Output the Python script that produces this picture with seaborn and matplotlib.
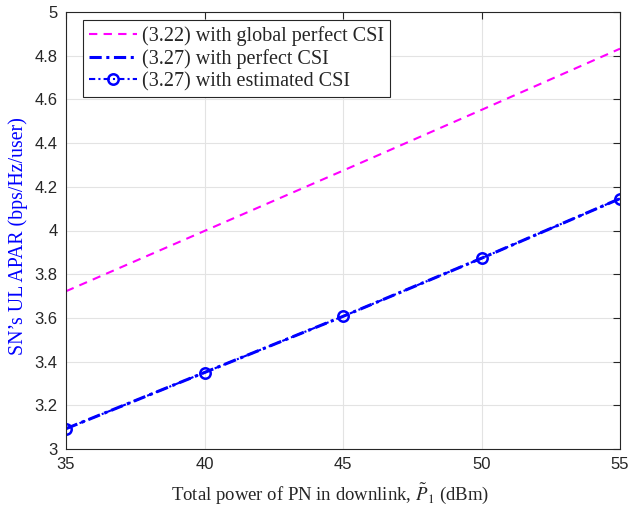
import matplotlib
matplotlib.use("Agg")
import matplotlib.pyplot as plt
import seaborn as sns
import pandas as pd

power_dbm = [35, 40, 45, 50, 55]
global_perfect = [3.722, 3.998, 4.274, 4.552, 4.832]
perfect_csi = [3.093, 3.350, 3.607, 3.873, 4.146]
estimated_csi = [3.093, 3.350, 3.607, 3.873, 4.146]

labels = ["(3.22) with global perfect CSI", "(3.27) with perfect CSI", "(3.27) with estimated CSI"]

sns.set_theme(style="whitegrid")
plt.rcParams["font.family"] = ["Liberation Sans", "DejaVu Sans"]
plt.rcParams["mathtext.fontset"] = "stix"

fig = plt.figure(figsize=(6.32, 5.12), dpi=100)
ax = fig.add_axes([66/632, 1-449/512, (620-66)/632, (449-12)/512])

df = pd.DataFrame({"x": power_dbm, "g": global_perfect, "p": perfect_csi, "e": estimated_csi})

sns.lineplot(data=df, x="x", y="g", ax=ax, color="#ff00ff", linestyle=(0, (4, 3)), linewidth=1.5, label=labels[0])
sns.lineplot(data=df, x="x", y="p", ax=ax, color="#0000ff", linestyle=(0, (4, 1.5, 1, 1.5)), linewidth=2.2, label=labels[1])
sns.lineplot(data=df, x="x", y="e", ax=ax, color="#0000ff", linestyle=(0, (3, 1.5, 1, 1.5)), linewidth=1.5,
             marker="o", markersize=7.5, markerfacecolor="none", markeredgecolor="#0000ff", markeredgewidth=1.8,
             label=labels[2])

ax.set_xlim(35, 55)
ax.set_ylim(3, 5)
ax.set_xticks([35, 40, 45, 50, 55])
ax.set_yticks([3, 3.2, 3.4, 3.6, 3.8, 4, 4.2, 4.4, 4.6, 4.8, 5])
ax.set_yticklabels(["3", "3.2", "3.4", "3.6", "3.8", "4", "4.2", "4.4", "4.6", "4.8", "5"])

ax.grid(True, color="#e3e3e3", linewidth=0.8)
for s in ax.spines.values():
    s.set_visible(True)
    s.set_color("#262626")
    s.set_linewidth(0.8)
ax.tick_params(axis="both", direction="in", length=5, width=0.8, color="#262626",
               labelsize=12, labelcolor="#262626", top=True, right=True, pad=6)
ax.set_facecolor("white")

ax.set_xlabel(r"Total power of PN in downlink, $\tilde{P}_1$ (dBm)", fontsize=13.5,
              family=["Liberation Serif", "DejaVu Serif"], color="#262626")
ax.xaxis.set_label_coords(0.4765, -0.074)
ax.set_ylabel("SN\u2019s UL APAR (bps/Hz/user)", fontsize=14.3,
              family=["Liberation Serif", "DejaVu Serif"], color="#0000ff")
ax.yaxis.set_label_coords(-0.068, 0.488)

leg = ax.legend(loc="upper left", bbox_to_anchor=(0.02, 0.995), fancybox=False, framealpha=1,
                edgecolor="#262626", handlelength=2.4, handletextpad=0.2, borderpad=0.3,
                labelspacing=0.15, borderaxespad=0.3,
                prop={"family": ["Liberation Serif", "DejaVu Serif"], "size": 14.5})
leg.get_frame().set_linewidth(0.8)

fig.savefig("out.png", dpi=100)
